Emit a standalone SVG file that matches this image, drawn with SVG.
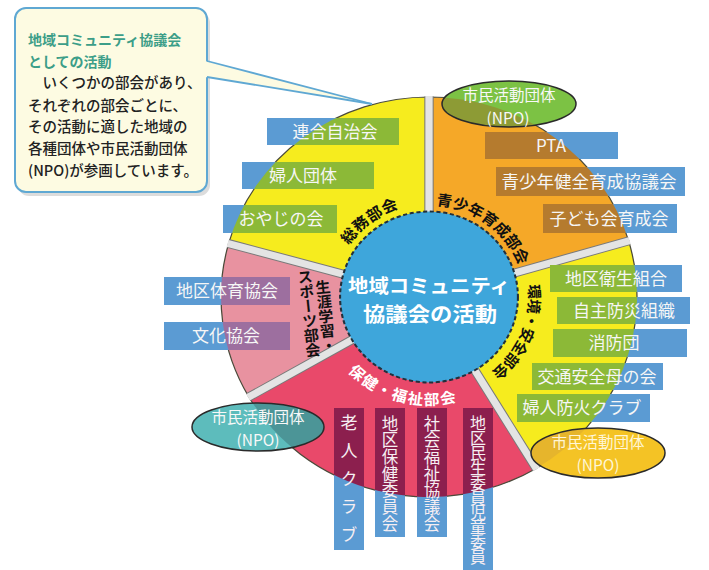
<svg xmlns="http://www.w3.org/2000/svg" width="709" height="570" viewBox="0 0 709 570">
<style>
text{font-family:"Noto Sans CJK JP","Noto Sans",sans-serif;}
.sec{stroke:#4a4a3a;stroke-width:1.2}
.gapo{stroke:#7a7a7a;stroke-width:9;fill:none}
.gapi{stroke:#e4e4e4;stroke-width:7;fill:none}
.blue{fill:#5b9bd3}
.bt{fill:#f6f6f6;font-size:17px;text-anchor:middle}
.vt{fill:#f6eef2;font-size:16.5px;writing-mode:vertical-rl}
.lab{font-weight:bold;font-size:15px;fill:#111}
.npo{stroke:#2a2a2a;stroke-width:1.5;fill:none}
.nt{fill:#f8f8f8;font-size:15.5px;text-anchor:middle}
.body{font-size:14.5px;fill:#222;font-weight:500}
</style>
<defs>
<path id="p-somu" d="M-90.6,-20.9 A93,93 0 0 1 4.9,-92.9"/>
<path id="p-sei" d="M-12.8,-91.1 A92,92 0 0 1 91.1,-12.8"/>
<path id="p-kan" d="M88.4,-37.5 A96,96 0 0 1 37.5,88.4"/>
<path id="p-hok" d="M-94.2,52.9 A108,108 0 0 0 52.9,94.2"/>
<clipPath id="c-ytl"><path transform="translate(429 297) scale(1.04 1)" d="M0,0 L-192.7,-53.4 A200,200 0 0 1 0,-200 Z"/></clipPath>
<clipPath id="c-or"><path transform="translate(429 297) scale(1.04 1)" d="M0,0 L0,-200 A200,200 0 0 1 191.96,-56.14 Z"/></clipPath>
<clipPath id="c-yr"><path transform="translate(429 297) scale(1.04 1)" d="M0,0 L191.96,-56.14 A200,200 0 0 1 103,171.4 Z"/></clipPath>
<clipPath id="c-cr"><path transform="translate(429 297) scale(1.04 1)" d="M0,0 L103,171.4 A200,200 0 0 1 -173.2,100 Z"/></clipPath>
<clipPath id="c-lp"><path transform="translate(429 297) scale(1.04 1)" d="M0,0 L-173.2,100 A200,200 0 0 1 -192.7,-53.4 Z"/></clipPath>
</defs>
<rect width="709" height="570" fill="#ffffff"/>

<g id="pie" transform="translate(429 297) scale(1.04 1)">
  <g id="somu-bukai"><path class="sec" fill="#f6ec1e" d="M0,0 L-192.7,-53.4 A200,200 0 0 1 0,-200 Z"/></g>
  <g id="seishonen-bukai"><path class="sec" fill="#f5a828" d="M0,0 L0,-200 A200,200 0 0 1 191.96,-56.14 Z"/></g>
  <g id="kankyo-bukai"><path class="sec" fill="#f6ec1e" d="M0,0 L191.96,-56.14 A200,200 0 0 1 103,171.4 Z"/></g>
  <g id="hoken-bukai"><path class="sec" fill="#e9496a" d="M0,0 L103,171.4 A200,200 0 0 1 -173.2,100 Z"/></g>
  <g id="shogai-bukai"><path class="sec" fill="#e892a0" d="M0,0 L-173.2,100 A200,200 0 0 1 -192.7,-53.4 Z"/></g>
  <g id="gaps">
    <path class="gapo" d="M0,-70 L0,-200.5 M67.2,-19.6 L192.4,-56.3 M36.1,60 L103.3,171.9 M-60.6,35 L-173.6,100.2 M-67.5,-18.7 L-193.2,-53.6"/>
    <path class="gapi" d="M0,-70 L0,-201 M67.2,-19.6 L193,-56.4 M36.1,60 L103.5,172.3 M-60.6,35 L-174,100.4 M-67.5,-18.7 L-193.7,-53.7"/>
  </g>
</g>

<g id="boxes-somu">
  <g id="rengo"><rect class="blue" x="267" y="118" width="132" height="27"/><rect fill="#8cb937" clip-path="url(#c-ytl)" x="267" y="118" width="132" height="27"/><text class="bt" x="335" y="137.5">連合自治会</text></g>
  <g id="fujin"><rect class="blue" x="242" y="162" width="132" height="27"/><rect fill="#8cb937" clip-path="url(#c-ytl)" x="242" y="162" width="132" height="27"/><text class="bt" x="303" y="182">婦人団体</text></g>
  <g id="oyaji"><rect class="blue" x="223" y="205" width="114" height="28"/><rect fill="#8cb937" clip-path="url(#c-ytl)" x="223" y="205" width="114" height="28"/><text class="bt" x="281" y="225">おやじの会</text></g>
</g>

<g id="boxes-seishonen">
  <g id="pta"><rect class="blue" x="485" y="132" width="133" height="27"/><rect fill="#b57b2e" clip-path="url(#c-or)" x="485" y="132" width="133" height="27"/><text class="bt" x="551" y="152">PTA</text></g>
  <g id="kenzen"><rect class="blue" x="496" y="167" width="189" height="29"/><rect fill="#b57b2e" clip-path="url(#c-or)" x="496" y="167" width="189" height="29"/><text class="bt" style="font-size:17.5px" x="589" y="188">青少年健全育成協議会</text></g>
  <g id="kodomo"><rect class="blue" x="543" y="204" width="134" height="29"/><rect fill="#b57b2e" clip-path="url(#c-or)" x="543" y="204" width="134" height="29"/><text class="bt" x="609" y="225">子ども会育成会</text></g>
</g>

<g id="boxes-kankyo">
  <g id="eisei"><rect class="blue" x="550" y="265" width="132" height="27"/><rect fill="#8cb937" clip-path="url(#c-yr)" x="550" y="265" width="132" height="27"/><text class="bt" x="616" y="285">地区衛生組合</text></g>
  <g id="bosai"><rect class="blue" x="557" y="297" width="133" height="27"/><rect fill="#8cb937" clip-path="url(#c-yr)" x="557" y="297" width="133" height="27"/><text class="bt" x="624" y="317">自主防災組織</text></g>
  <g id="shobo"><rect class="blue" x="553" y="329" width="134" height="28"/><rect fill="#8cb937" clip-path="url(#c-yr)" x="553" y="329" width="134" height="28"/><text class="bt" x="614" y="349">消防団</text></g>
  <g id="kotsu"><rect class="blue" x="532" y="363" width="131" height="27"/><rect fill="#8cb937" clip-path="url(#c-yr)" x="532" y="363" width="131" height="27"/><text class="bt" x="597" y="383">交通安全母の会</text></g>
  <g id="boka"><rect class="blue" x="517" y="394" width="133" height="28"/><rect fill="#8cb937" clip-path="url(#c-yr)" x="517" y="394" width="133" height="28"/><text class="bt" x="582" y="414">婦人防火クラブ</text></g>
</g>

<g id="boxes-shogai">
  <g id="taiiku"><rect class="blue" x="164" y="277" width="126" height="28"/><rect fill="#9d6f9f" clip-path="url(#c-lp)" x="164" y="277" width="126" height="28"/><text class="bt" x="227" y="297">地区体育協会</text></g>
  <g id="bunka"><rect class="blue" x="164" y="322" width="126" height="28"/><rect fill="#9d6f9f" clip-path="url(#c-lp)" x="164" y="322" width="126" height="28"/><text class="bt" x="226" y="342">文化協会</text></g>
</g>

<g id="boxes-hoken">
  <g id="rojin"><rect class="blue" x="334" y="408" width="30" height="142"/><rect fill="#8c1f4e" clip-path="url(#c-cr)" x="334" y="408" width="30" height="142"/><text class="vt" style="font-size:17px;letter-spacing:11px" x="349" y="414.5">老人クラブ</text></g>
  <g id="hokeniin"><rect class="blue" x="375" y="408" width="30" height="129"/><rect fill="#8c1f4e" clip-path="url(#c-cr)" x="375" y="408" width="30" height="129"/><text class="vt" style="letter-spacing:0.2px" x="390" y="415">地区保健委員会</text></g>
  <g id="shakyo"><rect class="blue" x="417" y="408" width="30" height="129"/><rect fill="#8c1f4e" clip-path="url(#c-cr)" x="417" y="408" width="30" height="129"/><text class="vt" style="letter-spacing:0.2px" x="432" y="415">社会福祉協議会</text></g>
  <g id="minsei"><rect class="blue" x="463" y="408" width="30" height="165"/><rect fill="#8c1f4e" clip-path="url(#c-cr)" x="463" y="408" width="30" height="165"/><text class="vt" style="font-size:16px;letter-spacing:-1.1px" x="478" y="415">地区民生委員児童委員</text></g>
</g>

<g id="npo-top">
  <ellipse cx="509" cy="104" rx="67" ry="23" fill="#7cc244"/>
  <ellipse cx="509" cy="104" rx="67" ry="23" fill="#8d9b35" clip-path="url(#c-or)"/>
  <ellipse class="npo" cx="509" cy="104" rx="67" ry="23"/>
  <text class="nt" x="509" y="101">市民活動団体</text>
  <text class="nt" x="508" y="123.5">(NPO)</text>
</g>
<g id="npo-right">
  <ellipse cx="598" cy="453" rx="67" ry="25" fill="#f4c325"/>
  <ellipse cx="598" cy="453" rx="67" ry="25" fill="#e6b52c" clip-path="url(#c-yr)"/>
  <ellipse class="npo" cx="598" cy="453" rx="67" ry="25"/>
  <text class="nt" style="fill:#fff6d6" x="598" y="448">市民活動団体</text>
  <text class="nt" style="fill:#fff6d6" x="598" y="471">(NPO)</text>
</g>
<g id="npo-left">
  <ellipse cx="258" cy="427" rx="66" ry="24" fill="#5dbcbc"/>
  <ellipse cx="258" cy="427" rx="66" ry="24" fill="#4c9597" clip-path="url(#c-cr)"/>
  <ellipse class="npo" cx="258" cy="427" rx="66" ry="24"/>
  <text class="nt" x="258" y="423">市民活動団体</text>
  <text class="nt" x="258" y="445.5">(NPO)</text>
</g>

<g id="center" transform="translate(429 297) scale(1.04 1)">
  <circle r="85.5" fill="#3ea6db" stroke="#22303c" stroke-width="2" stroke-dasharray="4 2.5"/>
</g>
<g id="center-text">
  <text x="429" y="293" text-anchor="middle" font-size="19.5" font-weight="bold" fill="#ffffff" textLength="162" lengthAdjust="spacingAndGlyphs">地域コミュニティ</text>
  <text x="430" y="322" text-anchor="middle" font-size="20" font-weight="bold" fill="#ffffff" textLength="134" lengthAdjust="spacingAndGlyphs">協議会の活動</text>
</g>

<g id="labels" transform="translate(429 297) scale(1.04 1)">
  <text class="lab" style="letter-spacing:0.5px"><textPath href="#p-somu" startOffset="50%" text-anchor="middle">総務部会</textPath></text>
  <text class="lab"><textPath href="#p-sei" startOffset="50%" text-anchor="middle">青少年育成部会</textPath></text>
  <text class="lab" style="font-size:14.5px;letter-spacing:-0.5px"><textPath href="#p-kan" startOffset="50%" text-anchor="middle">環境・安全部会</textPath></text>
  <text class="lab" style="fill:#ffffff;letter-spacing:1.5px"><textPath href="#p-hok" startOffset="50%" text-anchor="middle">保健・福祉部会</textPath></text>
</g>
<g id="shogai-label" transform="rotate(-6 315 313)">
  <text class="lab" style="writing-mode:vertical-rl;letter-spacing:-0.3px" x="325.5" y="280.5">生涯学習・</text>
  <text class="lab" style="writing-mode:vertical-rl;letter-spacing:-0.3px" x="309" y="268.5">スポーツ部会</text>
</g>

<g id="callout">
  <rect x="18" y="12" width="192" height="184" rx="11" fill="#9a9a9a" opacity="0.35"/>
  <rect x="15" y="8" width="192" height="184" rx="11" fill="#fdfbe2" stroke="#5fa8d3" stroke-width="2"/>
  <polygon points="205,61 372,104 205,77" fill="#fdfbe2"/>
  <line x1="207" y1="61" x2="372" y2="104" stroke="#5fa8d3" stroke-width="1.8"/>
  <line x1="207" y1="77" x2="372" y2="104" stroke="#5fa8d3" stroke-width="1.8"/>
  <text x="28" y="45" font-size="14" font-weight="bold" fill="#3c9e88">地域コミュニティ協議会</text>
  <text x="28" y="67" font-size="14" font-weight="bold" fill="#3c9e88">としての活動</text>
  <text class="body" x="28" y="88">　いくつかの部会があり、</text>
  <text class="body" x="28" y="111">それぞれの部会ごとに、</text>
  <text class="body" x="28" y="132">その活動に適した地域の</text>
  <text class="body" x="28" y="154">各種団体や市民活動団体</text>
  <text class="body" x="28" y="176">(NPO)が参画しています。</text>
</g>
</svg>
